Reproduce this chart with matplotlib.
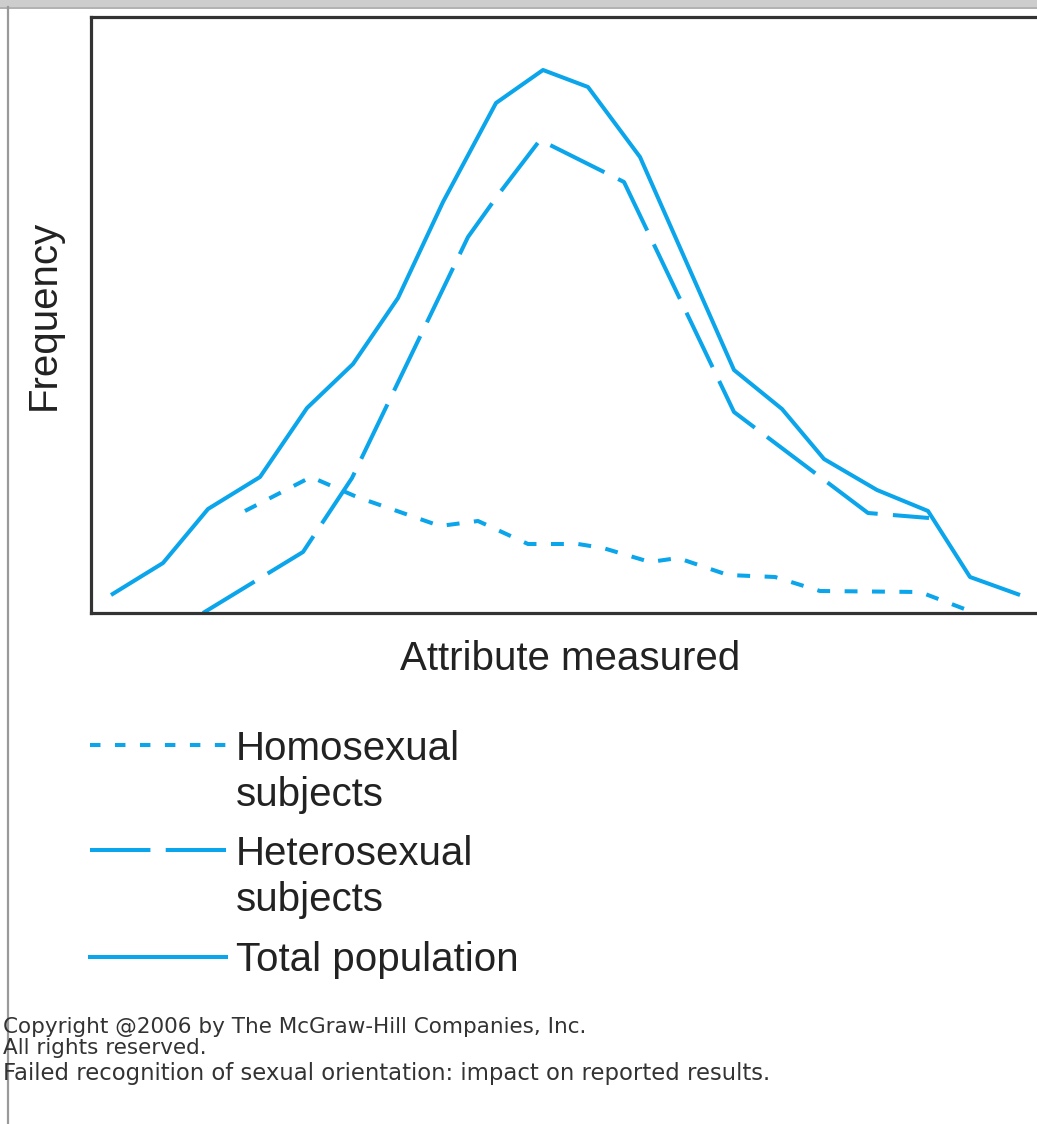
import matplotlib
matplotlib.use("Agg")
import matplotlib.pyplot as plt
from matplotlib.lines import Line2D
from matplotlib.patches import Rectangle

# values (arbitrary units: attribute, frequency)
total_x = [20, 72, 117, 169, 216, 262, 307, 352, 405, 452, 497, 549, 643, 691, 733, 786, 837, 879, 929]
total_y = [18, 50, 104, 136, 205, 249, 315, 411, 510, 543, 526, 456, 243, 204, 154, 123, 102, 36, 18]

hetero_x = [112, 212, 261, 377, 407, 449, 533, 643, 777, 838]
hetero_y = [0, 61, 135, 376, 418, 473, 431, 201, 100, 95]

homo_x = [154, 220, 266, 349, 387, 437, 487, 512, 559, 587, 637, 684, 729, 829, 884]
homo_y = [102, 136, 116, 87, 92, 69, 69, 65, 51, 55, 38, 36, 22, 21, 0]

labels = ["Homosexual\nsubjects", "Heterosexual\nsubjects", "Total population"]

W, H = 1037, 1124
blue = "#0aa5ea"
ink = "#222222"
lw = 2.9


def fx(px):
    return px / W


def fy(py):
    return 1 - py / H


fig = plt.figure(figsize=(W / 100, H / 100), dpi=100)

# page chrome: grey bar on top, thin rule on the left
fig.add_artist(Rectangle((0, fy(7)), 1, 7 / H, transform=fig.transFigure,
                         facecolor="#cdcdcd", edgecolor="none"))
fig.add_artist(Line2D([0, 1], [fy(7.5), fy(7.5)], transform=fig.transFigure,
                      color="#a3a3a3", lw=1.2))
fig.add_artist(Line2D([fx(8), fx(8)], [fy(7), 0], transform=fig.transFigure,
                      color="#9a9a9a", lw=1.6))

ax = fig.add_axes([fx(91), fy(613), (1045 - 91) / W, (613 - 17) / H])
ax.set_xlim(0, 954)
ax.set_ylim(0, 596)
ax.set_xticks([])
ax.set_yticks([])
for side in ["left", "top", "bottom"]:
    ax.spines[side].set_linewidth(2.3)
    ax.spines[side].set_color("#333333")
ax.spines["right"].set_visible(False)

dotted = (0, (3.2, 3.6))
longdash = (0, (15, 3.8))

ax.plot(homo_x, homo_y, color=blue, lw=lw, linestyle=dotted, dash_capstyle="butt",
        clip_on=False)
ax.plot(hetero_x, hetero_y, color=blue, lw=lw, linestyle=longdash, dash_capstyle="butt",
        clip_on=False)
ax.plot(total_x, total_y, color=blue, lw=lw, solid_capstyle="butt",
        solid_joinstyle="round", clip_on=False)

fig.text(fx(44), fy(315), "Frequency", rotation=90, ha="center", va="center",
         fontsize=29, color=ink, family="Liberation Sans")
fig.text(fx(570), fy(670), "Attribute measured", ha="center", va="baseline",
         fontsize=29, color=ink, family="Liberation Sans")

# legend drawn by hand
styles = [(0, (2.6, 3.6)), longdash, "-"]
line_y = [745, 850, 957]
base_y = [760, 865, 971]
for lab, st, ly, by in zip(labels, styles, line_y, base_y):
    fig.add_artist(Line2D([fx(90), fx(226)], [fy(ly), fy(ly)], transform=fig.transFigure,
                          color=blue, lw=lw, linestyle=st, dash_capstyle="butt"))
    for i, part in enumerate(lab.split("\n")):
        fig.text(fx(236), fy(by + i * 46), part, ha="left", va="baseline",
                 fontsize=29, color=ink, family="Liberation Sans")

fig.text(fx(3), fy(1033), "Copyright @2006 by The McGraw-Hill Companies, Inc.",
         ha="left", va="baseline", fontsize=15.5, color="#333333", family="DejaVu Sans")
fig.text(fx(3), fy(1054), "All rights reserved.",
         ha="left", va="baseline", fontsize=15.5, color="#333333", family="DejaVu Sans")
fig.text(fx(3), fy(1080), "Failed recognition of sexual orientation: impact on reported results.",
         ha="left", va="baseline", fontsize=16.4, color="#333333", family="DejaVu Sans")

fig.savefig("out.png", dpi=100)
